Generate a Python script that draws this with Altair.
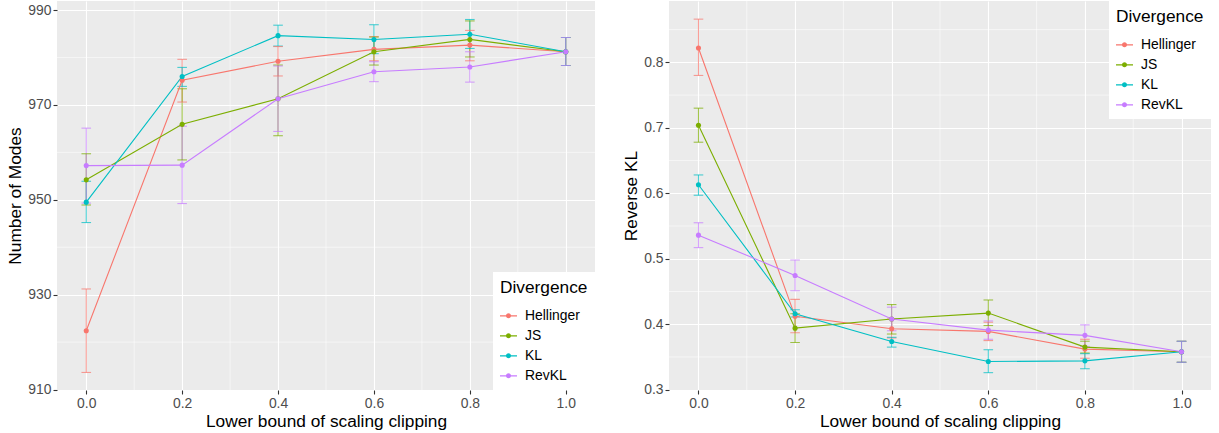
import altair as alt
import pandas as pd

# ---------------- data ----------------
series = ["Hellinger", "JS", "KL", "RevKL"]
colors = ["#F8766D", "#7CAE00", "#00BFC4", "#C77CFF"]
clip_lb = [0.0, 0.2, 0.4, 0.6, 0.8, 1.0]

# Number of Modes (left panel)
modes_mean = {
    "Hellinger": [922.4, 975.2, 979.2, 981.7, 982.6, 981.2],
    "JS":        [954.2, 965.9, 971.3, 981.2, 983.8, 981.2],
    "KL":        [949.5, 976.0, 984.6, 983.8, 984.9, 981.2],
    "RevKL":     [957.2, 957.3, 971.3, 977.0, 978.0, 981.2],
}
modes_lo = {
    "Hellinger": [913.6, 970.6, 976.1, 979.3, 979.3, 978.3],
    "JS":        [948.9, 958.4, 963.5, 978.4, 980.1, 978.3],
    "KL":        [945.2, 973.9, 982.4, 980.8, 981.9, 978.3],
    "RevKL":     [949.3, 949.2, 964.4, 974.9, 974.8, 978.3],
}
modes_hi = {
    "Hellinger": [931.2, 979.6, 982.3, 984.4, 985.7, 984.2],
    "JS":        [959.7, 973.4, 978.4, 984.3, 987.7, 984.2],
    "KL":        [953.9, 977.9, 986.8, 986.9, 988.0, 984.2],
    "RevKL":     [965.1, 965.5, 978.2, 979.1, 981.2, 984.2],
}

# Reverse KL (right panel)
rkl_mean = {
    "Hellinger": [0.822, 0.412, 0.393, 0.389, 0.362, 0.358],
    "JS":        [0.704, 0.394, 0.408, 0.417, 0.365, 0.358],
    "KL":        [0.613, 0.416, 0.3735, 0.343, 0.344, 0.358],
    "RevKL":     [0.536, 0.4745, 0.408, 0.391, 0.383, 0.358],
}
rkl_lo = {
    "Hellinger": [0.780, 0.387, 0.379, 0.375, 0.348, 0.342],
    "JS":        [0.678, 0.372, 0.385, 0.398, 0.356, 0.342],
    "KL":        [0.597, 0.411, 0.365, 0.326, 0.332, 0.342],
    "RevKL":     [0.517, 0.451, 0.390, 0.377, 0.366, 0.342],
}
rkl_hi = {
    "Hellinger": [0.866, 0.438, 0.408, 0.403, 0.377, 0.374],
    "JS":        [0.730, 0.416, 0.430, 0.437, 0.374, 0.374],
    "KL":        [0.628, 0.422, 0.380, 0.361, 0.355, 0.374],
    "RevKL":     [0.555, 0.498, 0.426, 0.405, 0.399, 0.374],
}

x_ticks = [0.0, 0.2, 0.4, 0.6, 0.8, 1.0]
x_minor = [0.1, 0.3, 0.5, 0.7, 0.9]
modes_ticks = [910, 930, 950, 970, 990]
modes_minor = [920, 940, 960, 980]
rkl_ticks = [0.3, 0.4, 0.5, 0.6, 0.7, 0.8]
rkl_minor = [0.35, 0.45, 0.55, 0.65, 0.75, 0.85]

FONT = "Liberation Sans"
LEGEND_SYMBOL = ("M-1,-0.07L1,-0.07L1,0.07L-1,0.07Z"
                 "M0.3,0A0.3,0.3,0,1,1,-0.3,0A0.3,0.3,0,1,1,0.3,0Z")


def frame(mean, lo, hi):
    rows = []
    for s in series:
        for i, x in enumerate(clip_lb):
            rows.append({"Divergence": s, "x": x, "y": mean[s][i],
                         "lo": lo[s][i], "hi": hi[s][i]})
    return pd.DataFrame(rows)


def make_legend(orient):
    return alt.Legend(
        title="Divergence", orient=orient, offset=0,
        fillColor="white", padding=7,
        symbolType=LEGEND_SYMBOL, symbolSize=289, symbolOpacity=1,
        symbolStrokeWidth=0, rowPadding=4,
        labelOffset=8, titlePadding=11,
        titleFontSize=17.3, titleFontWeight="normal", titleColor="black",
        labelFontSize=13.9, labelColor="black", titleFont=FONT, labelFont=FONT)


def panel(df, ydomain, yticks, yminor, ytitle, yfmt, legend, width, height):
    xs = alt.Scale(domain=[-0.061, 1.061], nice=False, zero=False)
    ys = alt.Scale(domain=ydomain, nice=False, zero=False)
    xaxis = alt.Axis(values=x_ticks, format=".1f", title="Lower bound of scaling clipping")
    yaxis = alt.Axis(values=yticks, format=yfmt, title=ytitle)
    color = alt.Color("Divergence:N", scale=alt.Scale(domain=series, range=colors),
                      legend=legend)

    vminor = alt.Chart(pd.DataFrame({"v": x_minor})).mark_rule(
        color="white", strokeWidth=0.55).encode(x=alt.X("v:Q", scale=xs, axis=xaxis))
    hminor = alt.Chart(pd.DataFrame({"v": yminor})).mark_rule(
        color="white", strokeWidth=0.55).encode(y=alt.Y("v:Q", scale=ys, axis=yaxis))

    base = alt.Chart(df)
    ex = alt.X("x:Q", scale=xs, axis=xaxis)
    bars = base.mark_rule(strokeWidth=1.1, opacity=0.7).encode(
        x=ex, y=alt.Y("lo:Q", scale=ys, axis=yaxis), y2="hi:Q", color=color)
    cap_lo = base.mark_tick(orient="horizontal", size=9.6, thickness=1.1, opacity=0.7).encode(
        x=ex, y=alt.Y("lo:Q", scale=ys, axis=yaxis), color=color)
    cap_hi = base.mark_tick(orient="horizontal", size=9.6, thickness=1.1, opacity=0.7).encode(
        x=ex, y=alt.Y("hi:Q", scale=ys, axis=yaxis), color=color)
    line = base.mark_line(strokeWidth=1.1).encode(
        x=ex, y=alt.Y("y:Q", scale=ys, axis=yaxis), color=color)
    pts = base.mark_circle(size=26, opacity=1).encode(
        x=ex, y=alt.Y("y:Q", scale=ys, axis=yaxis), color=color)
    return alt.layer(vminor, hminor, bars, cap_lo, cap_hi, line, pts).properties(
        width=width, height=height)


left = panel(frame(modes_mean, modes_lo, modes_hi), [909.9, 991.9],
             modes_ticks, modes_minor, "Number of Modes", "d",
             make_legend("bottom-right"), 538, 389)
right = panel(frame(rkl_mean, rkl_lo, rkl_hi), [0.2995, 0.8937],
              rkl_ticks, rkl_minor, "Reverse KL", ".1f",
              make_legend("top-right"), 542, 389)

chart = alt.hconcat(left, right, spacing=26).resolve_scale(color="independent").properties(
    padding={"left": 6, "top": 0, "right": 0, "bottom": 0}
).configure_view(
    fill="#EBEBEB", strokeWidth=0
).configure_axis(
    grid=True, gridColor="white", gridWidth=1.1, domain=False,
    tickColor="#333333", tickSize=4, tickWidth=1.1,
    labelColor="#4D4D4D", labelFontSize=13.9, labelFont=FONT, labelPadding=2,
    titleColor="black", titleFontSize=17.3, titleFont=FONT, titleFontWeight="normal",
    titlePadding=3,
).configure_axisX(labelFlush=False).configure_axisY(labelFlush=False)

chart.save("out.html", embed_options={"renderer": "svg", "actions": False})
